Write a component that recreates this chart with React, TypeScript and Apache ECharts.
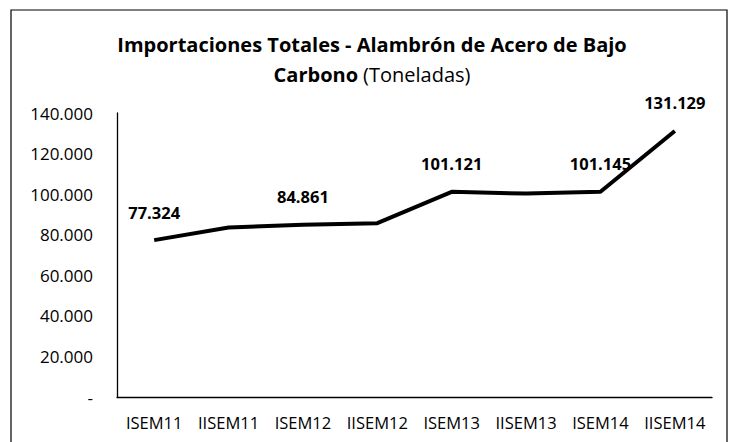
import React, { useEffect, useRef } from "react";
import * as echarts from "echarts";

const categories = ["ISEM11", "IISEM11", "ISEM12", "IISEM12", "ISEM13", "IISEM13", "ISEM14", "IISEM14"];
const values = [77324, 83600, 84861, 85700, 101121, 100300, 101145, 131129];
const labelShown = [true, false, true, false, true, false, true, true];
const yTicks = [0, 20000, 40000, 60000, 80000, 100000, 120000, 140000];

const FONT = "'Open Sans', 'Noto Sans', sans-serif";

function fmt(v: number): string {
  if (v === 0) return "-";
  return Math.round(v).toString().replace(/\B(?=(\d{3})+(?!\d))/g, ".");
}

export default function App() {
  const ref = useRef<HTMLDivElement>(null);
  useEffect(() => {
    if (!ref.current) return;
    const chart = echarts.init(ref.current, null, { renderer: "svg" });
    chart.setOption({
      animation: false,
      backgroundColor: "#ffffff",
      graphic: [
        {
          type: "polyline",
          shape: { points: [[11, 460], [11, 10], [727, 10], [727, 460]] },
          style: { stroke: "#000", lineWidth: 1.2, fill: "none" },
          silent: true,
        },
      ],
      title: {
        left: 372,
        textAlign: "center",
        top: 29,
        padding: 0,
        text: "{b|Importaciones Totales - Alambrón de Acero de Bajo}\n{b|Carbono} {n|(Toneladas)}",
        textStyle: {
          rich: {
            b: { fontFamily: FONT, fontSize: 20, fontWeight: "bold", color: "#000", lineHeight: 30 },
            n: { fontFamily: FONT, fontSize: 20, fontWeight: "normal", color: "#000", lineHeight: 30 },
          },
        },
      },
      grid: { left: 117, right: 17, top: 113, bottom: 45, containLabel: false },
      xAxis: {
        type: "category",
        data: categories,
        boundaryGap: true,
        axisLine: { show: true, lineStyle: { color: "#000", width: 1.3 } },
        axisTick: { show: false },
        axisLabel: { color: "#000", fontFamily: FONT, fontSize: 16.5, margin: 17, interval: 0 },
      },
      yAxis: {
        type: "value",
        min: 0,
        max: 140000,
        interval: 20000,
        axisLine: { show: true, lineStyle: { color: "#000", width: 1.3 } },
        axisTick: { show: false },
        splitLine: { show: false },
        axisLabel: {
          color: "#000",
          fontFamily: FONT,
          fontSize: 17,
          margin: 24,
          formatter: (v: number) => (yTicks.indexOf(v) >= 0 ? fmt(v) : ""),
        },
      },
      series: [
        {
          type: "line",
          data: values.map((v, i) => ({
            value: v,
            label: { show: labelShown[i] },
          })),
          showSymbol: true,
          symbol: "circle",
          symbolSize: 1,
          itemStyle: { color: "rgba(0,0,0,0)" },
          lineStyle: { color: "#000", width: 4 },
          label: {
            show: false,
            position: "top",
            distance: 19,
            color: "#000",
            fontFamily: FONT,
            fontWeight: "bold",
            fontSize: 16.5,
            formatter: (p: any) => fmt(p.value),
          },
        },
      ],
    });
    return () => chart.dispose();
  }, []);
  return <div ref={ref} style={{ width: 729, height: 442, position: "absolute", left: 0, top: 0 }} />;
}
